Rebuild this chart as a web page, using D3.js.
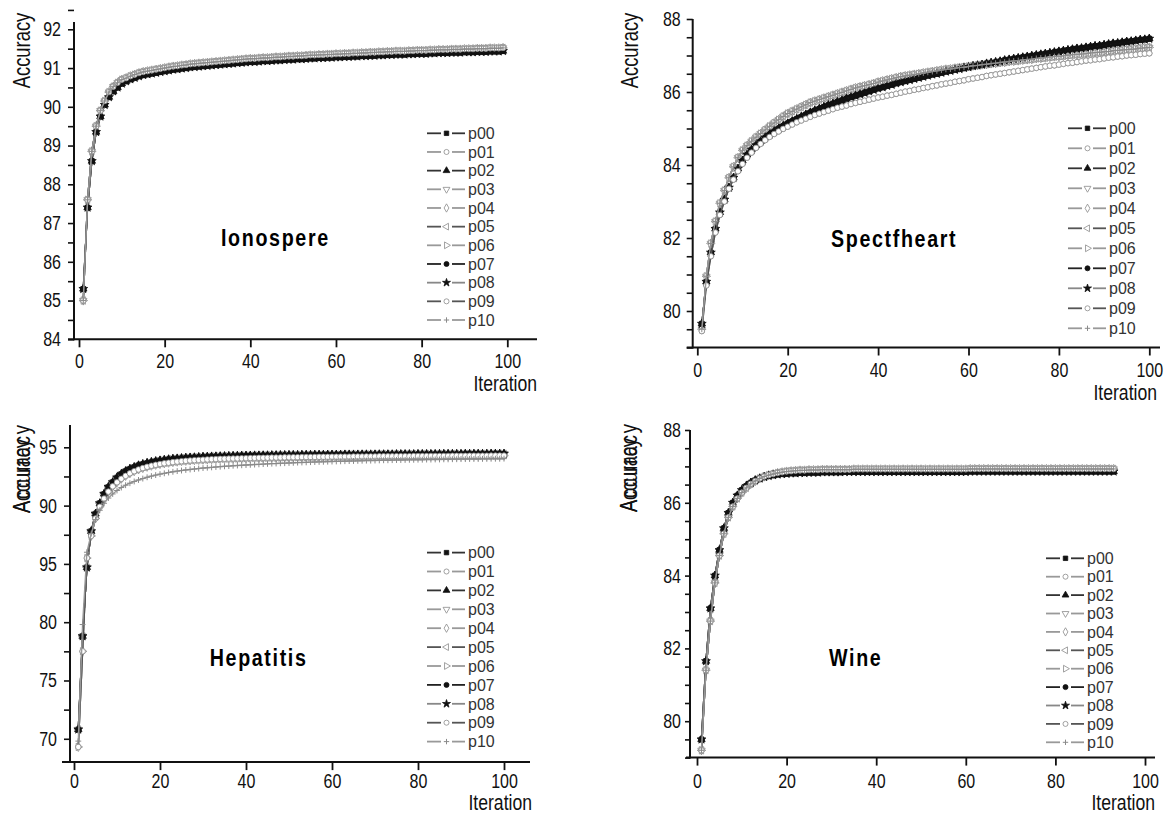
<!DOCTYPE html>
<html><head><meta charset="utf-8">
<script src="https://cdn.jsdelivr.net/npm/d3@7/dist/d3.min.js"></script>
<style>html,body{margin:0;padding:0;background:#fff;}</style>
</head><body>
<svg id="chart" width="1167" height="814" xmlns="http://www.w3.org/2000/svg"></svg>
<script>
// ================= DATA =================
const seriesNames = ["p00","p01","p02","p03","p04","p05","p06","p07","p08","p09","p10"];
const titles = ["Ionospere","Spectfheart","Hepatitis","Wine"];
const yAxisTitle = "Accuracy";
const xAxisTitle = "Iteration";
const xTickValues = [0,20,40,60,80,100];
const xTickLabels = ["0","20","40","60","80","100"];
const ionoYLabelValues = [84,85,86,87,88,89,90,91,92];
const ionoYLabels = ["84","85","86","87","88","89","90","91","92"];
const spectYLabelValues = [80,82,84,86,88];
const spectYLabels = ["80","82","84","86","88"];
const hepaYLabelValues = [70,75,80,85,90,95];
const hepaYLabels = ["70","75","80","95","90","95"];
const wineYLabelValues = [80,82,84,86,88];
const wineYLabels = ["80","82","84","86","88"];

// Ionospere (iterations 1..99)
const ionoDark = [85.3,87.4,88.6,89.35,89.75,90.05,90.25,90.4,90.5,90.6,
90.66,90.71,90.75,90.79,90.82,90.84,90.86,90.88,90.9,90.92,
90.94,90.96,90.97,90.99,91.0,91.02,91.03,91.04,91.05,91.06,
91.07,91.08,91.09,91.1,91.11,91.12,91.13,91.14,91.15,91.16,
91.16,91.17,91.18,91.18,91.19,91.2,91.2,91.21,91.22,91.22,
91.23,91.23,91.24,91.25,91.25,91.26,91.26,91.27,91.27,91.28,
91.28,91.29,91.29,91.3,91.3,91.31,91.31,91.32,91.32,91.33,
91.33,91.34,91.34,91.35,91.35,91.35,91.36,91.36,91.37,91.37,
91.37,91.38,91.38,91.39,91.39,91.39,91.4,91.4,91.4,91.41,
91.41,91.41,91.42,91.42,91.42,91.43,91.43,91.43,91.44];
const ionoLight = [85.0,87.6,88.85,89.5,89.9,90.15,90.38,90.52,90.62,90.7,
90.74,90.79,90.83,90.87,90.9,90.92,90.94,90.96,90.98,91.0,
91.02,91.04,91.05,91.07,91.08,91.1,91.11,91.12,91.13,91.14,
91.15,91.16,91.17,91.18,91.19,91.2,91.21,91.22,91.23,91.24,
91.24,91.25,91.26,91.26,91.27,91.28,91.28,91.29,91.3,91.3,
91.31,91.31,91.32,91.33,91.33,91.34,91.34,91.35,91.35,91.36,
91.36,91.37,91.37,91.38,91.38,91.39,91.39,91.4,91.4,91.41,
91.41,91.42,91.42,91.43,91.43,91.43,91.44,91.44,91.45,91.45,
91.45,91.46,91.46,91.47,91.47,91.47,91.48,91.48,91.48,91.49,
91.49,91.49,91.5,91.5,91.5,91.51,91.51,91.51,91.52];

// Spectfheart (iterations 1..100)
const spectDark = [79.65,80.8,81.6,82.25,82.7,83.05,83.38,83.65,83.9,84.12,
84.28,84.42,84.54,84.65,84.75,84.84,84.92,85.0,85.07,85.14,
85.2,85.26,85.32,85.38,85.44,85.49,85.54,85.59,85.64,85.68,
85.73,85.77,85.82,85.86,85.9,85.94,85.98,86.02,86.06,86.1,
86.13,86.17,86.2,86.24,86.27,86.3,86.33,86.36,86.39,86.42,
86.45,86.48,86.5,86.53,86.56,86.58,86.61,86.63,86.66,86.68,
86.71,86.73,86.75,86.78,86.8,86.82,86.84,86.87,86.89,86.91,
86.93,86.95,86.97,86.99,87.01,87.03,87.05,87.07,87.09,87.11,
87.13,87.15,87.17,87.19,87.2,87.22,87.24,87.26,87.27,87.29,
87.31,87.33,87.34,87.36,87.38,87.39,87.41,87.43,87.44,87.46];
const spectFast = [79.5,80.95,81.85,82.45,82.95,83.3,83.65,83.95,84.2,84.4,
84.53,84.65,84.76,84.86,84.96,85.06,85.15,85.24,85.33,85.41,
85.47,85.53,85.59,85.65,85.71,85.75,85.79,85.83,85.87,85.91,
85.95,85.99,86.03,86.07,86.11,86.14,86.17,86.2,86.23,86.27,
86.3,86.33,86.36,86.39,86.42,86.44,86.46,86.48,86.5,86.52,
86.54,86.56,86.58,86.6,86.62,86.63,86.65,86.67,86.68,86.7,
86.72,86.73,86.75,86.76,86.78,86.79,86.81,86.82,86.84,86.85,
86.86,86.88,86.89,86.9,86.92,86.93,86.94,86.96,86.97,86.98,
86.99,87.01,87.02,87.03,87.04,87.05,87.07,87.08,87.09,87.1,
87.11,87.13,87.14,87.15,87.16,87.17,87.18,87.2,87.21,87.22];
const spectLow = [79.45,80.7,81.5,82.15,82.63,83.0,83.35,83.6,83.83,84.03,
84.2,84.34,84.47,84.58,84.68,84.77,84.85,84.92,84.99,85.05,
85.11,85.17,85.22,85.27,85.32,85.37,85.41,85.45,85.49,85.53,
85.57,85.6,85.63,85.67,85.7,85.73,85.76,85.79,85.82,85.85,
85.87,85.9,85.92,85.95,85.98,86.01,86.03,86.06,86.08,86.11,
86.13,86.16,86.18,86.21,86.23,86.25,86.28,86.3,86.32,86.35,
86.37,86.39,86.41,86.44,86.46,86.48,86.5,86.52,86.54,86.56,
86.58,86.6,86.62,86.64,86.66,86.68,86.7,86.72,86.73,86.75,
86.77,86.79,86.8,86.82,86.84,86.86,86.87,86.89,86.9,86.92,
86.94,86.95,86.97,86.98,87.0,87.01,87.02,87.04,87.05,87.06];

// Hepatitis (iterations 1..100)
const hepaDark = [70.8,78.8,84.7,87.8,89.3,90.2,91.0,91.6,92.0,92.4,
92.7,92.95,93.15,93.3,93.45,93.56,93.66,93.74,93.81,93.87,
93.92,93.97,94.01,94.04,94.07,94.1,94.12,94.14,94.16,94.18,
94.19,94.21,94.22,94.23,94.24,94.25,94.26,94.27,94.28,94.28,
94.29,94.3,94.3,94.31,94.31,94.32,94.32,94.33,94.33,94.34,
94.34,94.34,94.35,94.35,94.35,94.36,94.36,94.36,94.37,94.37,
94.37,94.37,94.38,94.38,94.38,94.38,94.39,94.39,94.39,94.39,
94.4,94.4,94.4,94.4,94.41,94.41,94.41,94.41,94.41,94.42,
94.42,94.42,94.42,94.42,94.43,94.43,94.43,94.43,94.43,94.43,
94.44,94.44,94.44,94.44,94.44,94.44,94.45,94.45,94.45,94.45];
const hepaLight = [69.3,77.5,85.5,87.4,88.9,89.9,90.6,91.2,91.65,92.0,
92.3,92.55,92.77,92.95,93.1,93.22,93.33,93.42,93.5,93.57,
93.63,93.68,93.73,93.77,93.81,93.84,93.87,93.9,93.92,93.94,
93.96,93.98,93.99,94.01,94.02,94.03,94.04,94.05,94.06,94.07,
94.08,94.09,94.1,94.1,94.11,94.12,94.12,94.13,94.14,94.14,
94.15,94.15,94.16,94.16,94.17,94.17,94.18,94.18,94.18,94.19,
94.19,94.2,94.2,94.2,94.21,94.21,94.21,94.22,94.22,94.22,
94.23,94.23,94.23,94.23,94.24,94.24,94.24,94.24,94.25,94.25,
94.25,94.25,94.26,94.26,94.26,94.26,94.26,94.27,94.27,94.27,
94.27,94.28,94.28,94.28,94.28,94.28,94.29,94.29,94.29,94.29];
const hepaPlus = [69.8,79.8,86.0,87.6,88.8,89.6,90.2,90.65,91.0,91.3,
91.55,91.75,91.92,92.07,92.2,92.32,92.43,92.53,92.62,92.7,
92.77,92.84,92.9,92.96,93.01,93.06,93.1,93.14,93.18,93.22,
93.25,93.28,93.31,93.34,93.37,93.39,93.42,93.44,93.46,93.48,
93.5,93.52,93.54,93.56,93.58,93.6,93.61,93.63,93.64,93.66,
93.67,93.69,93.7,93.71,93.73,93.74,93.75,93.76,93.77,93.78,
93.79,93.8,93.81,93.82,93.83,93.84,93.85,93.86,93.86,93.87,
93.88,93.89,93.89,93.9,93.91,93.91,93.92,93.93,93.93,93.94,
93.94,93.95,93.95,93.96,93.96,93.97,93.97,93.98,93.98,93.99,
93.99,94.0,94.0,94.0,94.01,94.01,94.02,94.02,94.02,94.03];

// Wine (iterations 1..93)
const wineDark = [79.5,81.65,83.1,84.0,84.7,85.3,85.72,86.0,86.2,86.35,
86.46,86.55,86.62,86.67,86.71,86.74,86.76,86.78,86.79,86.8,
86.81,86.81,86.82,86.82,86.83,86.83,86.83,86.84,86.84,86.84,
86.84,86.84,86.85,86.85,86.85,86.85,86.85,86.85,86.85,86.85,
86.85,86.85,86.85,86.85,86.85,86.85,86.85,86.85,86.85,86.85,
86.85,86.85,86.85,86.85,86.85,86.85,86.85,86.85,86.85,86.85,
86.86,86.86,86.86,86.86,86.86,86.86,86.86,86.86,86.86,86.86,
86.86,86.86,86.86,86.86,86.86,86.86,86.86,86.86,86.86,86.86,
86.86,86.86,86.86,86.86,86.86,86.86,86.86,86.86,86.86,86.86,
86.86,86.86,86.86];
const wineLight = [79.2,81.4,82.75,83.8,84.55,85.15,85.6,85.9,86.12,86.28,
86.41,86.52,86.6,86.67,86.72,86.76,86.79,86.82,86.84,86.86,
86.87,86.88,86.89,86.89,86.9,86.9,86.9,86.91,86.91,86.91,
86.91,86.91,86.91,86.91,86.92,86.92,86.92,86.92,86.92,86.92,
86.92,86.92,86.92,86.92,86.92,86.92,86.92,86.92,86.92,86.92,
86.92,86.92,86.92,86.92,86.92,86.92,86.92,86.92,86.92,86.92,
86.93,86.93,86.93,86.93,86.93,86.93,86.93,86.93,86.93,86.93,
86.93,86.93,86.93,86.93,86.93,86.93,86.93,86.93,86.93,86.93,
86.93,86.93,86.93,86.93,86.93,86.93,86.93,86.93,86.93,86.93,
86.93,86.93,86.93];

// which curve each series follows (p00..p10)
const ionoSeries  = [ionoDark, ionoLight, ionoDark, ionoLight, ionoLight, ionoLight, ionoLight, ionoDark, ionoDark, ionoLight, ionoLight];
const spectSeries = [spectDark, spectLow, spectDark, spectFast, spectFast, spectFast, spectFast, spectDark, spectDark, spectLow, spectFast];
const hepaSeries  = [hepaDark, hepaLight, hepaDark, hepaDark, hepaLight, hepaDark, hepaLight, hepaDark, hepaDark, hepaLight, hepaPlus];
const wineSeries  = [wineDark, wineLight, wineDark, wineLight, wineLight, wineLight, wineLight, wineDark, wineDark, wineLight, wineLight];

// ================= STYLE =================
const markerKinds  = ["square","circle","triUp","triDown","diamond","triLeft","triRight","circle","star","circle","plus"];
const markerFilled = [true,false,true,false,false,false,false,true,true,false,false];
const lineShade    = ["#333","#999","#333","#999","#999","#555","#999","#222","#888","#555","#999"];
const markerShade  = ["#111","#8a8a8a","#111","#8a8a8a","#8a8a8a","#8a8a8a","#8a8a8a","#111","#111","#8a8a8a","#8a8a8a"];
const FONT = '"Liberation Sans", Arial, Helvetica, sans-serif';
const SQX = 0.8;   // horizontal squeeze to imitate a condensed face

const symTypes = {square:d3.symbolSquare, circle:d3.symbolCircle, triUp:d3.symbolTriangle, triDown:d3.symbolTriangle,
  diamond:d3.symbolDiamond, triLeft:d3.symbolTriangle, triRight:d3.symbolTriangle, star:d3.symbolStar};
const symRot = {triDown:180, triLeft:-90, triRight:90};
function symPath(kind, s){
  if (kind === 'plus'){ const r = Math.sqrt(s)*0.6; return `M${-r},0H${r}M0,${-r}V${r}`; }
  return d3.symbol().type(symTypes[kind]).size(s)();
}
function drawMarker(g, k, cx, cy, s){
  const kind = markerKinds[k];
  g.append('path').attr('d', symPath(kind, s))
    .attr('transform', `translate(${cx},${cy}) rotate(${symRot[kind]||0})`)
    .attr('fill', kind==='plus' ? 'none' : (markerFilled[k] ? markerShade[k] : '#fff'))
    .attr('stroke', markerShade[k]).attr('stroke-width', kind==='plus'?1:0.8);
}
function ntext(g, x, y, str, size, anchor, rot, extra){
  const t = g.append('text')
    .attr('transform', `translate(${x},${y})${rot ? ` rotate(${rot})` : ''} scale(${SQX},1)`)
    .attr('text-anchor', anchor).attr('font-family', FONT).attr('font-size', size).attr('fill', '#111').text(str);
  if (extra) extra(t);
  return t;
}

const svg = d3.select('#chart');

const panels = [
 {title:titles[0], curves:ionoSeries, xRange:[79,507.3], yDomain:[84,92], yRange:[339.3,29.3],
  yTicks:d3.range(84,92.51,0.5), yLabelValues:ionoYLabelValues, yLabels:ionoYLabels,
  axisX:74, yTop:22, yTickSize:6, yPad:7, xAxisL:68, xAxisR:537, xLabelBase:368,
  iterX:537, iterY:391, accX:30, accY:50.5, accDouble:false,
  legX:427, legY:133.3, legSp:18.67, titleX:221, titleY:246},
 {title:titles[1], curves:spectSeries, xRange:[697.3,1149.3], yDomain:[79,88], yRange:[347.5,19],
  yTicks:d3.range(79,88.01,0.5), yLabelValues:spectYLabelValues, yLabels:spectYLabels,
  axisX:692.7, yTop:19, yTickSize:6, yPad:6, xAxisL:686.7, xAxisR:1160, xLabelBase:377,
  iterX:1157, iterY:400, accX:638, accY:50.5, accDouble:false,
  legX:1068, legY:128.3, legSp:20, titleX:831, titleY:246.7},
 {title:titles[2], curves:hepaSeries, xRange:[74,504], yDomain:[68,97], yRange:[762.1,424],
  yTicks:d3.range(70,95.01,2.5), yLabelValues:hepaYLabelValues, yLabels:hepaYLabels,
  axisX:70, yTop:425, yTickSize:6, yPad:7, xAxisL:62, xAxisR:530, xLabelBase:788,
  iterX:532, iterY:810, accX:30, accY:469, accDouble:true,
  legX:427, legY:552.6, legSp:18.9, titleX:209.7, titleY:666},
 {title:titles[3], curves:wineSeries, xRange:[697,1145], yDomain:[79,88], yRange:[757.6,430],
  yTicks:d3.range(79,88.01,0.5), yLabelValues:wineYLabelValues, yLabels:wineYLabels,
  axisX:690, yTop:430, yTickSize:5, yPad:4, xAxisL:686, xAxisR:1155, xLabelBase:788,
  iterX:1155, iterY:810, accX:637, accY:468, accDouble:true,
  legX:1046, legY:558.3, legSp:18.4, titleX:829, titleY:665.7}
];

function drawPanel(p){
  const g = svg.append('g');
  const x = d3.scaleLinear().domain([0,100]).range(p.xRange);
  const y = d3.scaleLinear().domain(p.yDomain).range(p.yRange);
  const yBase = y(p.yDomain[0]);

  const yAxis = d3.axisLeft(y).tickValues(p.yTicks).tickSize(p.yTickSize).tickPadding(p.yPad)
    .tickFormat(v => { const i = p.yLabelValues.findIndex(u => Math.abs(u - v) < 1e-6); return i >= 0 ? p.yLabels[i] : ''; });
  const ya = g.append('g').attr('transform', `translate(${p.axisX},0)`).call(yAxis);
  ya.select('.domain').remove();
  ya.selectAll('line').attr('stroke', '#111').attr('stroke-width', 1.6);
  ya.selectAll('text').each(function(){
    const t = d3.select(this); const xx = +t.attr('x');
    t.attr('x', xx / SQX).attr('transform', `scale(${SQX},1)`);
  }).attr('font-family', FONT).attr('font-size', 20).attr('fill', '#111');
  g.append('line').attr('x1', p.axisX).attr('x2', p.axisX).attr('y1', yBase + 1).attr('y2', p.yTop)
    .attr('stroke', '#111').attr('stroke-width', 2);

  const xAxis = d3.axisBottom(x).tickValues(xTickValues).tickFormat((d, i) => xTickLabels[i]).tickSize(8);
  const xa = g.append('g').attr('transform', `translate(0,${yBase})`).call(xAxis);
  xa.select('.domain').remove();
  xa.selectAll('line').attr('stroke', '#111').attr('stroke-width', 1.8);
  xa.selectAll('text').attr('font-family', FONT).attr('font-size', 20).attr('fill', '#111')
    .attr('y', p.xLabelBase - yBase).attr('dy', 0).attr('transform', `scale(${SQX},1)`);
  g.append('line').attr('x1', p.xAxisL).attr('x2', p.xAxisR).attr('y1', yBase).attr('y2', yBase)
    .attr('stroke', '#111').attr('stroke-width', 2);

  ntext(g, p.iterX, p.iterY, xAxisTitle, 22, 'end');
  if (!p.accDouble){
    ntext(g, p.accX, p.accY, yAxisTitle, 23, 'middle', -90);
  } else {
    const bottom = p.accY + 44;
    ntext(g, p.accX, bottom, yAxisTitle, 23, 'start', -90,
      t => t.attr('textLength', 88 / SQX).attr('lengthAdjust', 'spacing'));
    ntext(g, p.accX, bottom, yAxisTitle, 23, 'start', -90,
      t => t.attr('textLength', 74 / SQX).attr('lengthAdjust', 'spacing'));
  }

  const line = d3.line().x(d => x(d.i)).y(d => y(d.v));
  p.curves.forEach((curve, k) => {
    const data = curve.map((v, j) => ({i: j + 1, v}));
    const sg = g.append('g');
    sg.append('path').datum(data).attr('d', line).attr('fill', 'none')
      .attr('stroke', lineShade[k]).attr('stroke-width', 1.4);
    data.forEach(d => drawMarker(sg, k, x(d.i), y(d.v), 24));
  });

  seriesNames.forEach((name, k) => {
    const ly = p.legY + k * p.legSp;
    const lg = g.append('g');
    lg.append('line').attr('x1', p.legX).attr('x2', p.legX + 14).attr('y1', ly).attr('y2', ly)
      .attr('stroke', lineShade[k]).attr('stroke-width', 1.8);
    lg.append('line').attr('x1', p.legX + 25).attr('x2', p.legX + 38).attr('y1', ly).attr('y2', ly)
      .attr('stroke', lineShade[k]).attr('stroke-width', 1.8);
    drawMarker(lg, k, p.legX + 19.5, ly, 20);
    lg.append('text').attr('x', p.legX + 41).attr('y', ly).attr('dy', '0.36em')
      .attr('font-family', FONT).attr('font-size', 16).attr('fill', '#333').text(name);
  });

  g.append('text').attr('transform', `translate(${p.titleX},${p.titleY}) scale(0.82,1)`)
    .attr('font-family', FONT).attr('font-weight', 'bold').attr('font-size', 24)
    .attr('letter-spacing', 2).attr('fill', '#000').text(p.title);
}
panels.forEach(drawPanel);
</script>
</body></html>
